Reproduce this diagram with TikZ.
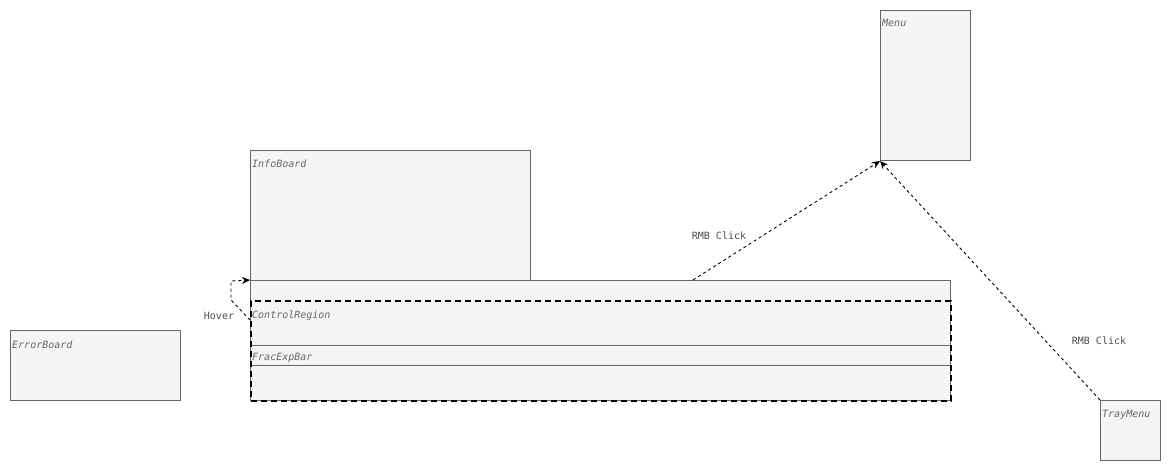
\documentclass[tikz,border=0pt]{standalone}
\usepackage{fontspec}
\setmonofont{DejaVu Sans Mono}
\usetikzlibrary{arrows.meta,calc}
\definecolor{boxfill}{HTML}{F5F5F5}
\definecolor{boxline}{HTML}{666666}
\definecolor{lbl}{HTML}{666666}
\definecolor{edgetxt}{HTML}{4D4D4D}
\begin{document}
\begin{tikzpicture}[x=1pt,y=-1pt,
  box/.style={draw=boxline,fill=boxfill,line width=1pt,inner sep=0pt,anchor=north west},
  boxlabel/.style={anchor=north west,inner sep=0pt,font=\ttfamily\itshape\fontsize{10}{12}\selectfont,text=lbl},
  edgelabel/.style={inner sep=1pt,font=\ttfamily\fontsize{10}{12}\selectfont,text=edgetxt},
  link/.style={draw=black,line width=0.9pt,dash pattern=on 3pt off 3pt,-{Stealth[length=8pt,width=7pt]}},
  ctrl/.style={draw=black,line width=1.8pt,dash pattern=on 6pt off 4pt,inner sep=0pt,anchor=north west}]
\useasboundingbox (0,0) rectangle (1171,471);
% boxes
\node[box,minimum width=90pt,minimum height=150pt] (menu) at (880,10) {};
\node[boxlabel] (menul) at ($(menu.north west)+(2,9.5)$) {Menu};
\node[box,minimum width=280pt,minimum height=130pt] (info) at (250,150) {};
\node[boxlabel] (infol) at ($(info.north west)+(2,9.5)$) {InfoBoard};
\node[box,minimum width=700pt,minimum height=120pt] (bar) at (250,280) {};
\node[box,minimum width=700pt,minimum height=20pt] (frac) at (250,345) {};
\node[boxlabel] (fracl) at ($(frac.north west)+(2,8.5)$) {FracExpBar};
\node[ctrl,minimum width=700pt,minimum height=100pt] (ctrlr) at (250,300) {};
\node[boxlabel] (ctrll) at ($(ctrlr.north west)+(2,10.5)$) {ControlRegion};
\node[box,minimum width=170pt,minimum height=70pt] (err) at (10,330) {};
\node[boxlabel] (errl) at ($(err.north west)+(2,10.5)$) {ErrorBoard};
\node[box,minimum width=60pt,minimum height=60pt] (tray) at (1100,400) {};
\node[boxlabel] (trayl) at ($(tray.north west)+(2,10.5)$) {TrayMenu};
% connectors
\coordinate (rmbstart) at (693,280);
\draw[link] (rmbstart) -- (menu.south west);
\draw[link] (tray.north west) -- (menu.south west);
\coordinate (hovstart) at (250,320);
\draw[link] (hovstart) -- (231,300) -- (231,281) -- (bar.north west);
% labels
\node[edgelabel] (rmb1) at (719,236) {RMB Click};
\node[edgelabel] (rmb2) at (1099,341) {RMB Click};
\node[edgelabel] (hov) at (219,316) {Hover};
\end{tikzpicture}
\end{document}
